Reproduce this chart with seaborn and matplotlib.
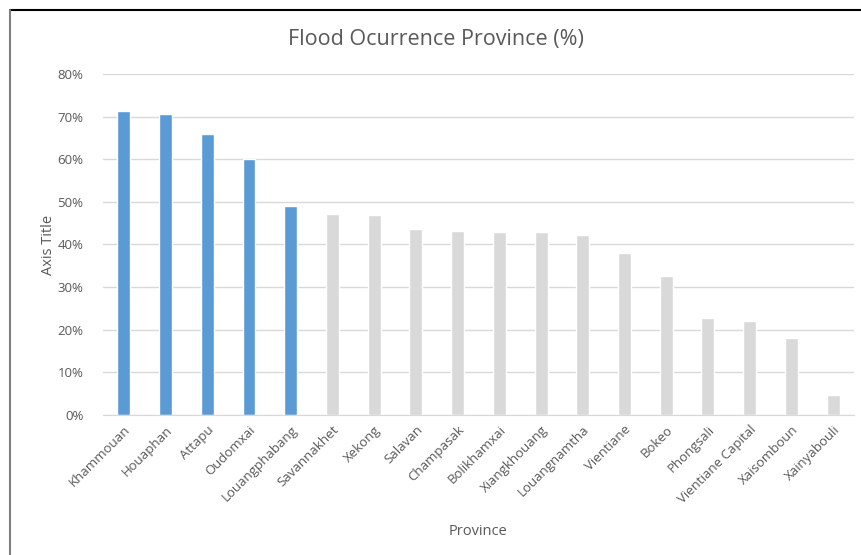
import matplotlib
matplotlib.use("Agg")
import matplotlib.pyplot as plt
import seaborn as sns
from matplotlib.ticker import PercentFormatter
from matplotlib.lines import Line2D

# Data
provinces = ["Khammouan", "Houaphan", "Attapu", "Oudomxai", "Louangphabang",
             "Savannakhet", "Xekong", "Salavan", "Champasak", "Bolikhamxai",
             "Xiangkhouang", "Louangnamtha", "Vientiane", "Bokeo", "Phongsali",
             "Vientiane Capital", "Xaisomboun", "Xainyabouli"]
occurrence = [0.713, 0.706, 0.659, 0.601, 0.490,
              0.471, 0.470, 0.437, 0.432, 0.429,
              0.429, 0.422, 0.380, 0.326, 0.228,
              0.220, 0.181, 0.046]
n_top = 5

blue = "#5B9BD5"
grey = "#D9D9D9"
text_col = "#595959"
palette = {p: (blue if i < n_top else grey) for i, p in enumerate(provinces)}

sns.set_style("white")
plt.rcParams['font.family'] = ['Open Sans', 'DejaVu Sans']

fig = plt.figure(figsize=(8.62, 5.55), dpi=100)
ax = fig.add_axes([0.1195, 0.2523, 0.8712, 0.6144])

sns.barplot(x=provinces, y=occurrence, hue=provinces, palette=palette,
            legend=False, width=0.31, ax=ax, saturation=1)

ax.set_ylim(0, 0.8)
ax.set_xlim(-0.5, len(provinces) - 0.5)
ax.set_yticks([i / 10 for i in range(9)])
ax.yaxis.set_major_formatter(PercentFormatter(1.0, decimals=0))
ax.grid(axis="y", color=grey, linewidth=1)
ax.set_axisbelow(True)
for s in ["top", "right", "left"]:
    ax.spines[s].set_visible(False)
ax.spines["bottom"].set_color(grey)
ax.tick_params(axis="both", length=0, colors=text_col, labelsize=9.5)
ax.tick_params(axis="y", pad=14)
ax.tick_params(axis="x", pad=6)
plt.setp(ax.get_xticklabels(), rotation=45, ha="right", rotation_mode="anchor")

# chart title centred on the whole chart area, as in the original
fig.text(436 / 862, 1 - 40 / 555, "Flood Ocurrence Province (%)", color=text_col,
         fontsize=15.5, ha="center", va="center")
ax.set_xlabel("Province", color=text_col, fontsize=10.5, labelpad=13)
ax.set_ylabel("Axis Title", color=text_col, fontsize=10.5, labelpad=1)

# frame edges from the original screenshot
fig.add_artist(Line2D([10 / 862, 1], [1 - 9.5 / 555, 1 - 9.5 / 555], color="black", lw=1.5))
fig.add_artist(Line2D([10.5 / 862, 10.5 / 862], [0, 1 - 9.5 / 555], color="#7f7f7f", lw=1.5))

fig.savefig("out.png", dpi=100)
